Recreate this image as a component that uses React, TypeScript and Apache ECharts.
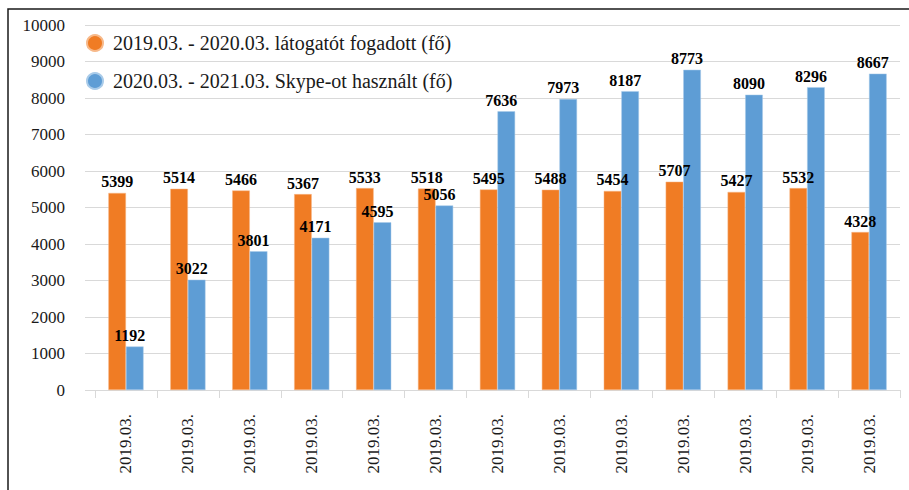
import React, { useEffect, useRef } from "react";
import * as echarts from "echarts";

const categories = [
  "2019.03.", "2019.03.", "2019.03.", "2019.03.", "2019.03.", "2019.03.", "2019.03.",
  "2019.03.", "2019.03.", "2019.03.", "2019.03.", "2019.03.", "2019.03.",
];
const visitorsName = "2019.03. - 2020.03. látogatót fogadott (fő)";
const skypeName = "2020.03. - 2021.03. Skype-ot használt (fő)";
const visitors = [5399, 5514, 5466, 5367, 5533, 5518, 5495, 5488, 5454, 5707, 5427, 5532, 4328];
const skype = [1192, 3022, 3801, 4171, 4595, 5056, 7636, 7973, 8187, 8773, 8090, 8296, 8667];
const yMin = 0;
const yMax = 10000;
const yStep = 1000;

const FONT = "Liberation Serif";

export default function App() {
  const ref = useRef<HTMLDivElement>(null);
  useEffect(() => {
    document.body.style.margin = "0";
    const chart = echarts.init(ref.current!, null, { renderer: "svg" });
    const labelStyle = {
      show: true,
      position: "top" as const,
      distance: 3,
      fontFamily: FONT,
      fontSize: 16,
      fontWeight: "bold" as const,
      color: "#000",
    };
    chart.setOption({
      animation: false,
      backgroundColor: "#fff",
      graphic: [
        {
          type: "rect",
          shape: { x: 8, y: 9, width: 1000, height: 1000 },
          style: { fill: "none", stroke: "#1a1a1a", lineWidth: 1.5 },
          silent: true,
          z: 100,
        },
      ],
      legend: {
        orient: "vertical",
        left: 86,
        top: 32,
        padding: 0,
        icon: "circle",
        itemWidth: 16,
        itemHeight: 16,
        itemGap: 16,
        textStyle: {
          fontFamily: FONT,
          fontSize: 20,
          color: "#1a1a1a",
          lineHeight: 22,
          padding: [0, 0, 0, 5],
        },
        data: [visitorsName, skypeName],
      },
      grid: [
        { left: 95, right: 9, top: 25, bottom: 100 },
        { left: 85, right: 9, top: 25, bottom: 100 },
      ],
      xAxis: [
        {
          type: "category",
          gridIndex: 0,
          data: categories,
          axisLine: { show: true, lineStyle: { color: "#d9d9d9", width: 1 } },
          axisTick: { show: true, length: 8, lineStyle: { color: "#d9d9d9" } },
          axisLabel: {
            rotate: 90,
            margin: 24,
            interval: 0,
            fontFamily: FONT,
            fontSize: 17,
            color: "#1a1a1a",
          },
        },
        { type: "value", gridIndex: 1, min: 0, max: 1, show: false },
      ],
      yAxis: [
        {
          type: "value",
          gridIndex: 0,
          min: yMin,
          max: yMax,
          interval: yStep,
          axisLine: { show: false },
          axisTick: { show: false },
          splitLine: { show: false },
          axisLabel: { show: false },
        },
        {
          type: "value",
          gridIndex: 1,
          min: yMin,
          max: yMax,
          interval: yStep,
          axisLine: { show: false },
          axisTick: { show: false },
          splitLine: { lineStyle: { color: "#d9d9d9", width: 1 } },
          axisLabel: {
            margin: 20,
            fontFamily: FONT,
            fontSize: 17,
            color: "#1a1a1a",
            formatter: (v: number) => String(v),
          },
        },
      ],
      series: [
        {
          name: visitorsName,
          type: "bar",
          xAxisIndex: 0,
          yAxisIndex: 0,
          data: visitors,
          barWidth: 17.6,
          barGap: "0%",
          z: 3,
          itemStyle: { color: "#F07C24", borderColor: "#f7b98a", borderWidth: 0.5 },
          label: labelStyle,
        },
        {
          name: skypeName,
          type: "bar",
          xAxisIndex: 0,
          yAxisIndex: 0,
          data: skype,
          barWidth: 17.6,
          z: 3,
          itemStyle: { color: "#5E9DD5", borderColor: "#a9cbe9", borderWidth: 0.5 },
          label: { ...labelStyle, offset: [-5, 0] },
        },
      ],
    });
    return () => chart.dispose();
  }, []);
  return <div ref={ref} style={{ width: 909, height: 490 }} />;
}
